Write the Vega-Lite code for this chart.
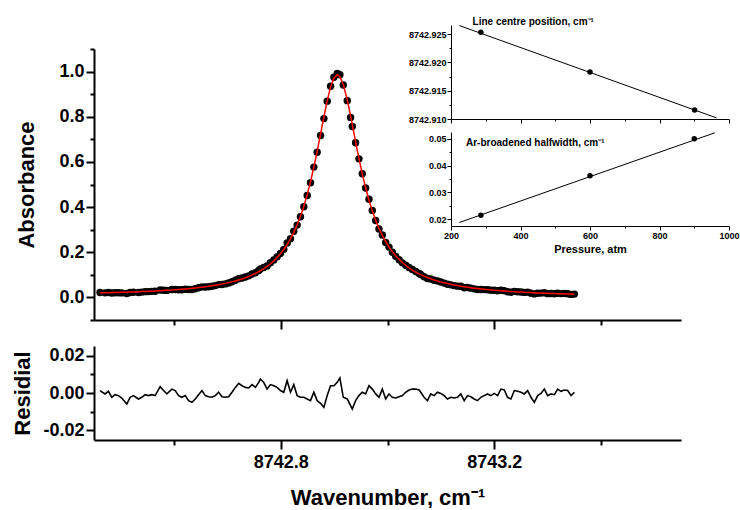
{
  "$schema": "https://vega.github.io/schema/vega-lite/v6.json",
  "background": "white",
  "padding": {"left": 11, "top": 17, "right": 0, "bottom": 0},
  "config": {
    "view": {"stroke": null},
    "font": "Liberation Sans",
    "axis": {"grid": false, "domainColor": "black", "tickColor": "black", "labelColor": "black", "titleColor": "black", "labelFont": "Liberation Sans", "titleFont": "Liberation Sans", "labelFontWeight": "bold", "titleFontWeight": "bold", "labelOverlap": false, "labelFlush": false}
  },
  "datasets": {
    "spec": [
      {"x":8742.4613,"a":0.0215,"fit":0.0202,"r":0.0013},
      {"x":8742.4707,"a":0.0202,"fit":0.0207,"r":-0.0005},
      {"x":8742.4770,"a":0.0220,"fit":0.0211,"r":0.0009},
      {"x":8742.4833,"a":0.0192,"fit":0.0215,"r":-0.0023},
      {"x":8742.4895,"a":0.0210,"fit":0.0219,"r":-0.0009},
      {"x":8742.4958,"a":0.0209,"fit":0.0223,"r":-0.0014},
      {"x":8742.5020,"a":0.0200,"fit":0.0227,"r":-0.0027},
      {"x":8742.5114,"a":0.0175,"fit":0.0234,"r":-0.0059},
      {"x":8742.5177,"a":0.0216,"fit":0.0239,"r":-0.0023},
      {"x":8742.5239,"a":0.0230,"fit":0.0244,"r":-0.0014},
      {"x":8742.5333,"a":0.0221,"fit":0.0253,"r":-0.0032},
      {"x":8742.5396,"a":0.0236,"fit":0.0259,"r":-0.0023},
      {"x":8742.5459,"a":0.0256,"fit":0.0265,"r":-0.0009},
      {"x":8742.5521,"a":0.0257,"fit":0.0271,"r":-0.0014},
      {"x":8742.5584,"a":0.0269,"fit":0.0278,"r":-0.0009},
      {"x":8742.5646,"a":0.0272,"fit":0.0286,"r":-0.0014},
      {"x":8742.5740,"a":0.0332,"fit":0.0298,"r":0.0034},
      {"x":8742.5803,"a":0.0319,"fit":0.0306,"r":0.0013},
      {"x":8742.5865,"a":0.0310,"fit":0.0315,"r":-0.0005},
      {"x":8742.5959,"a":0.0351,"fit":0.0330,"r":0.0021},
      {"x":8742.6022,"a":0.0353,"fit":0.0340,"r":0.0013},
      {"x":8742.6085,"a":0.0337,"fit":0.0351,"r":-0.0014},
      {"x":8742.6147,"a":0.0340,"fit":0.0363,"r":-0.0023},
      {"x":8742.6210,"a":0.0362,"fit":0.0376,"r":-0.0014},
      {"x":8742.6272,"a":0.0348,"fit":0.0389,"r":-0.0041},
      {"x":8742.6335,"a":0.0353,"fit":0.0403,"r":-0.0050},
      {"x":8742.6398,"a":0.0387,"fit":0.0419,"r":-0.0032},
      {"x":8742.6460,"a":0.0426,"fit":0.0435,"r":-0.0009},
      {"x":8742.6523,"a":0.0466,"fit":0.0453,"r":0.0013},
      {"x":8742.6585,"a":0.0458,"fit":0.0472,"r":-0.0014},
      {"x":8742.6648,"a":0.0472,"fit":0.0492,"r":-0.0020},
      {"x":8742.6710,"a":0.0491,"fit":0.0514,"r":-0.0023},
      {"x":8742.6773,"a":0.0524,"fit":0.0538,"r":-0.0014},
      {"x":8742.6836,"a":0.0568,"fit":0.0564,"r":0.0004},
      {"x":8742.6898,"a":0.0572,"fit":0.0592,"r":-0.0020},
      {"x":8742.6961,"a":0.0599,"fit":0.0622,"r":-0.0023},
      {"x":8742.7023,"a":0.0635,"fit":0.0655,"r":-0.0020},
      {"x":8742.7086,"a":0.0695,"fit":0.0691,"r":0.0004},
      {"x":8742.7149,"a":0.0760,"fit":0.0730,"r":0.0030},
      {"x":8742.7211,"a":0.0824,"fit":0.0772,"r":0.0052},
      {"x":8742.7274,"a":0.0858,"fit":0.0819,"r":0.0039},
      {"x":8742.7337,"a":0.0901,"fit":0.0871,"r":0.0030},
      {"x":8742.7399,"a":0.0955,"fit":0.0928,"r":0.0027},
      {"x":8742.7462,"a":0.1036,"fit":0.0991,"r":0.0045},
      {"x":8742.7524,"a":0.1090,"fit":0.1060,"r":0.0030},
      {"x":8742.7587,"a":0.1195,"fit":0.1138,"r":0.0057},
      {"x":8742.7618,"a":0.1255,"fit":0.1180,"r":0.0075},
      {"x":8742.7681,"a":0.1329,"fit":0.1272,"r":0.0057},
      {"x":8742.7743,"a":0.1394,"fit":0.1373,"r":0.0021},
      {"x":8742.7806,"a":0.1534,"fit":0.1489,"r":0.0045},
      {"x":8742.7869,"a":0.1659,"fit":0.1620,"r":0.0039},
      {"x":8742.7931,"a":0.1796,"fit":0.1766,"r":0.0030},
      {"x":8742.7994,"a":0.1948,"fit":0.1935,"r":0.0013},
      {"x":8742.8056,"a":0.2128,"fit":0.2124,"r":0.0004},
      {"x":8742.8119,"a":0.2410,"fit":0.2344,"r":0.0066},
      {"x":8742.8182,"a":0.2600,"fit":0.2596,"r":0.0004},
      {"x":8742.8244,"a":0.2927,"fit":0.2882,"r":0.0045},
      {"x":8742.8307,"a":0.3202,"fit":0.3216,"r":-0.0014},
      {"x":8742.8369,"a":0.3572,"fit":0.3595,"r":-0.0023},
      {"x":8742.8432,"a":0.4015,"fit":0.4038,"r":-0.0023},
      {"x":8742.8495,"a":0.4515,"fit":0.4547,"r":-0.0032},
      {"x":8742.8557,"a":0.5076,"fit":0.5117,"r":-0.0041},
      {"x":8742.8620,"a":0.5770,"fit":0.5766,"r":0.0004},
      {"x":8742.8682,"a":0.6426,"fit":0.6467,"r":-0.0041},
      {"x":8742.8745,"a":0.7171,"fit":0.7226,"r":-0.0055},
      {"x":8742.8808,"a":0.7917,"fit":0.7994,"r":-0.0077},
      {"x":8742.8870,"a":0.8691,"fit":0.8705,"r":-0.0014},
      {"x":8742.8933,"a":0.9348,"fit":0.9309,"r":0.0039},
      {"x":8742.8995,"a":0.9748,"fit":0.9709,"r":0.0039},
      {"x":8742.9058,"a":0.9917,"fit":0.9860,"r":0.0057},
      {"x":8742.9108,"a":0.9858,"fit":0.9777,"r":0.0081},
      {"x":8742.9171,"a":0.9408,"fit":0.9431,"r":-0.0023},
      {"x":8742.9246,"a":0.8713,"fit":0.8745,"r":-0.0032},
      {"x":8742.9308,"a":0.7971,"fit":0.8039,"r":-0.0068},
      {"x":8742.9340,"a":0.7565,"fit":0.7651,"r":-0.0086},
      {"x":8742.9402,"a":0.6852,"fit":0.6893,"r":-0.0041},
      {"x":8742.9465,"a":0.6135,"fit":0.6149,"r":-0.0014},
      {"x":8742.9527,"a":0.5477,"fit":0.5473,"r":0.0004},
      {"x":8742.9590,"a":0.4848,"fit":0.4853,"r":-0.0005},
      {"x":8742.9653,"a":0.4344,"fit":0.4305,"r":0.0039},
      {"x":8742.9715,"a":0.3853,"fit":0.3832,"r":0.0021},
      {"x":8742.9778,"a":0.3409,"fit":0.3414,"r":-0.0005},
      {"x":8742.9840,"a":0.3033,"fit":0.3056,"r":-0.0023},
      {"x":8742.9903,"a":0.2762,"fit":0.2741,"r":0.0021},
      {"x":8742.9966,"a":0.2435,"fit":0.2467,"r":-0.0032},
      {"x":8743.0028,"a":0.2228,"fit":0.2233,"r":-0.0005},
      {"x":8743.0091,"a":0.2001,"fit":0.2024,"r":-0.0023},
      {"x":8743.0153,"a":0.1818,"fit":0.1845,"r":-0.0027},
      {"x":8743.0216,"a":0.1665,"fit":0.1685,"r":-0.0020},
      {"x":8743.0279,"a":0.1530,"fit":0.1544,"r":-0.0014},
      {"x":8743.0341,"a":0.1425,"fit":0.1421,"r":0.0004},
      {"x":8743.0404,"a":0.1326,"fit":0.1310,"r":0.0016},
      {"x":8743.0466,"a":0.1233,"fit":0.1212,"r":0.0021},
      {"x":8743.0529,"a":0.1145,"fit":0.1124,"r":0.0021},
      {"x":8743.0592,"a":0.1060,"fit":0.1044,"r":0.0016},
      {"x":8743.0623,"a":0.1012,"fit":0.1008,"r":0.0004},
      {"x":8743.0685,"a":0.0918,"fit":0.0941,"r":-0.0023},
      {"x":8743.0748,"a":0.0839,"fit":0.0880,"r":-0.0041},
      {"x":8743.0811,"a":0.0819,"fit":0.0824,"r":-0.0005},
      {"x":8743.0873,"a":0.0760,"fit":0.0774,"r":-0.0014},
      {"x":8743.0936,"a":0.0732,"fit":0.0728,"r":0.0004},
      {"x":8743.0998,"a":0.0684,"fit":0.0686,"r":-0.0002},
      {"x":8743.1061,"a":0.0634,"fit":0.0648,"r":-0.0014},
      {"x":8743.1124,"a":0.0580,"fit":0.0612,"r":-0.0032},
      {"x":8743.1186,"a":0.0557,"fit":0.0580,"r":-0.0023},
      {"x":8743.1249,"a":0.0523,"fit":0.0550,"r":-0.0027},
      {"x":8743.1311,"a":0.0499,"fit":0.0522,"r":-0.0023},
      {"x":8743.1374,"a":0.0491,"fit":0.0496,"r":-0.0005},
      {"x":8743.1437,"a":0.0431,"fit":0.0472,"r":-0.0041},
      {"x":8743.1499,"a":0.0436,"fit":0.0450,"r":-0.0014},
      {"x":8743.1562,"a":0.0410,"fit":0.0430,"r":-0.0020},
      {"x":8743.1624,"a":0.0379,"fit":0.0411,"r":-0.0032},
      {"x":8743.1687,"a":0.0352,"fit":0.0393,"r":-0.0041},
      {"x":8743.1750,"a":0.0352,"fit":0.0375,"r":-0.0023},
      {"x":8743.1812,"a":0.0346,"fit":0.0360,"r":-0.0014},
      {"x":8743.1875,"a":0.0340,"fit":0.0345,"r":-0.0005},
      {"x":8743.1937,"a":0.0317,"fit":0.0331,"r":-0.0014},
      {"x":8743.2000,"a":0.0316,"fit":0.0318,"r":-0.0002},
      {"x":8743.2063,"a":0.0292,"fit":0.0306,"r":-0.0014},
      {"x":8743.2125,"a":0.0315,"fit":0.0294,"r":0.0021},
      {"x":8743.2188,"a":0.0299,"fit":0.0283,"r":0.0016},
      {"x":8743.2250,"a":0.0250,"fit":0.0273,"r":-0.0023},
      {"x":8743.2313,"a":0.0231,"fit":0.0263,"r":-0.0032},
      {"x":8743.2376,"a":0.0266,"fit":0.0253,"r":0.0013},
      {"x":8743.2438,"a":0.0253,"fit":0.0244,"r":0.0009},
      {"x":8743.2501,"a":0.0240,"fit":0.0236,"r":0.0004},
      {"x":8743.2563,"a":0.0223,"fit":0.0228,"r":-0.0005},
      {"x":8743.2626,"a":0.0233,"fit":0.0220,"r":0.0013},
      {"x":8743.2689,"a":0.0190,"fit":0.0213,"r":-0.0023},
      {"x":8743.2751,"a":0.0156,"fit":0.0206,"r":-0.0050},
      {"x":8743.2814,"a":0.0185,"fit":0.0199,"r":-0.0014},
      {"x":8743.2876,"a":0.0191,"fit":0.0193,"r":-0.0002},
      {"x":8743.2939,"a":0.0208,"fit":0.0187,"r":0.0021},
      {"x":8743.3002,"a":0.0167,"fit":0.0181,"r":-0.0014},
      {"x":8743.3064,"a":0.0171,"fit":0.0176,"r":-0.0005},
      {"x":8743.3127,"a":0.0161,"fit":0.0170,"r":-0.0009},
      {"x":8743.3189,"a":0.0186,"fit":0.0165,"r":0.0021},
      {"x":8743.3252,"a":0.0169,"fit":0.0160,"r":0.0009},
      {"x":8743.3315,"a":0.0172,"fit":0.0156,"r":0.0016},
      {"x":8743.3377,"a":0.0164,"fit":0.0151,"r":0.0013},
      {"x":8743.3440,"a":0.0133,"fit":0.0147,"r":-0.0014},
      {"x":8743.3502,"a":0.0147,"fit":0.0143,"r":0.0004}
    ],
    "pos": [{"p":286,"v":8742.9253},{"p":600,"v":8742.9183},{"p":901,"v":8742.9116}],
    "posfit": [{"p":224,"v":8742.9265},{"p":964,"v":8742.9102}],
    "hw": [{"p":286,"v":0.0215},{"p":600,"v":0.0362},{"p":900,"v":0.0500}],
    "hwfit": [{"p":224,"v":0.0188},{"p":959,"v":0.0522}]
  },
  "align": "none",
  "spacing": -273,
  "hconcat": [
    {
      "spacing": 16,
      "vconcat": [
        {
          "width": 587,
          "height": 7,
          "data": {"values": []},
          "mark": "point"
        },
        {
          "width": 587,
          "height": 271,
          "data": {"name": "spec"},
          "layer": [
            {
              "mark": {"type": "circle", "color": "black", "size": 55, "opacity": 1},
              "encoding": {
                "x": {"field": "x", "type": "quantitative", "scale": {"domain": [8742.45, 8743.55], "nice": false, "zero": false},
                  "axis": {"title": null, "values": [8742.6, 8742.8, 8743.0, 8743.2, 8743.4], "labels": false, "domainWidth": 2, "tickWidth": 2,
                    "tickSize": {"condition": {"test": "abs(datum.value-8742.8)<0.01 || abs(datum.value-8743.2)<0.01", "value": 9}, "value": 5}}},
                "y": {"field": "a", "type": "quantitative", "scale": {"domain": [-0.1, 1.1], "nice": false, "zero": false},
                  "axis": {"title": "Absorbance", "values": [-0.1, 0, 0.1, 0.2, 0.3, 0.4, 0.5, 0.6, 0.7, 0.8, 0.9, 1.0, 1.1],
                    "labelExpr": "round(datum.value*10)%2==0 ? format(datum.value,'.1f') : ''",
                    "tickSize": {"condition": {"test": "round(datum.value*10)%2==0", "value": 8}, "value": 4},
                    "labelFontSize": {"condition": {"test": "round(datum.value*10)%2==0", "value": 18}, "value": 1},
                    "titleFontSize": 22, "titlePadding": 20, "labelPadding": 2, "domainWidth": 2, "tickWidth": 2}}
              }
            },
            {
              "mark": {"type": "line", "color": "#ff0000", "strokeWidth": 1.5},
              "encoding": {
                "x": {"field": "x", "type": "quantitative", "scale": {"domain": [8742.45, 8743.55], "nice": false, "zero": false},
                  "axis": {"title": null, "values": [8742.6, 8742.8, 8743.0, 8743.2, 8743.4], "labels": false, "domainWidth": 2, "tickWidth": 2,
                    "tickSize": {"condition": {"test": "abs(datum.value-8742.8)<0.01 || abs(datum.value-8743.2)<0.01", "value": 9}, "value": 5}}},
                "y": {"field": "fit", "type": "quantitative", "scale": {"domain": [-0.1, 1.1], "nice": false, "zero": false},
                  "axis": {"title": "Absorbance", "values": [-0.1, 0, 0.1, 0.2, 0.3, 0.4, 0.5, 0.6, 0.7, 0.8, 0.9, 1.0, 1.1],
                    "labelExpr": "round(datum.value*10)%2==0 ? format(datum.value,'.1f') : ''",
                    "tickSize": {"condition": {"test": "round(datum.value*10)%2==0", "value": 8}, "value": 4},
                    "labelFontSize": {"condition": {"test": "round(datum.value*10)%2==0", "value": 18}, "value": 1},
                    "titleFontSize": 22, "titlePadding": 20, "labelPadding": 2, "domainWidth": 2, "tickWidth": 2}}
              }
            }
          ]
        },
        {
          "width": 587,
          "height": 94,
          "data": {"name": "spec"},
          "mark": {"type": "line", "color": "black", "strokeWidth": 1.6},
          "encoding": {
            "x": {"field": "x", "type": "quantitative", "scale": {"domain": [8742.45, 8743.55], "nice": false, "zero": false},
              "axis": {"title": "Wavenumber, cm⁻¹", "values": [8742.6, 8742.8, 8743.0, 8743.2, 8743.4],
                "labelExpr": "abs(datum.value-8742.8)<0.01 || abs(datum.value-8743.2)<0.01 ? format(datum.value,'.1f') : ''",
                "tickSize": {"condition": {"test": "abs(datum.value-8742.8)<0.01 || abs(datum.value-8743.2)<0.01", "value": 9}, "value": 5},
                "labelFontSize": 18, "titleFontSize": 22, "labelPadding": 4, "titlePadding": 16, "domainWidth": 2, "tickWidth": 2}},
            "y": {"field": "r", "type": "quantitative", "scale": {"domain": [-0.0252, 0.0252], "nice": false, "zero": false},
              "axis": {"title": "Residial", "values": [-0.02, -0.01, 0, 0.01, 0.02],
                "labelExpr": "round(datum.value*100)%2==0 ? (datum.value<0 ? '-' + format(-datum.value,'.2f') : format(datum.value,'.2f')) : ''",
                "tickSize": {"condition": {"test": "round(datum.value*100)%2==0", "value": 8}, "value": 4},
                "labelFontSize": 18, "titleFontSize": 22, "titlePadding": 8, "labelPadding": 2, "domainWidth": 2, "tickWidth": 2}}
          }
        }
      ]
    },
    {
      "spacing": 6,
      "vconcat": [
        {
          "width": 278,
          "height": 94,
          "layer": [
            {
              "data": {"name": "posfit"},
              "mark": {"type": "line", "color": "black", "strokeWidth": 1},
              "encoding": {
                "x": {"field": "p", "type": "quantitative", "scale": {"domain": [200, 1000], "nice": false, "zero": false},
                  "axis": {"title": null, "labels": false, "values": [200, 300, 400, 500, 600, 700, 800, 900, 1000],
                    "tickSize": {"condition": {"test": "datum.value%200==0", "value": 4}, "value": 2}, "domainWidth": 1, "tickWidth": 1}},
                "y": {"field": "v", "type": "quantitative", "scale": {"domain": [8742.91, 8742.9266], "nice": false, "zero": false},
                  "axis": {"title": null, "values": [8742.91, 8742.9125, 8742.915, 8742.9175, 8742.92, 8742.9225, 8742.925],
                    "labelExpr": "round(datum.value*400)%2==0 ? format(datum.value,'.3f') : ''",
                    "tickSize": {"condition": {"test": "round(datum.value*400)%2==0", "value": 4}, "value": 2},
                    "labelFontSize": 9, "labelPadding": 1, "labelOverlap": false, "domainWidth": 1, "tickWidth": 1}}
              }
            },
            {
              "data": {"name": "pos"},
              "mark": {"type": "circle", "color": "black", "size": 30, "opacity": 1},
              "encoding": {
                "x": {"field": "p", "type": "quantitative", "scale": {"domain": [200, 1000], "nice": false, "zero": false},
                  "axis": {"title": null, "labels": false, "values": [200, 300, 400, 500, 600, 700, 800, 900, 1000],
                    "tickSize": {"condition": {"test": "datum.value%200==0", "value": 4}, "value": 2}, "domainWidth": 1, "tickWidth": 1}},
                "y": {"field": "v", "type": "quantitative", "scale": {"domain": [8742.91, 8742.9266], "nice": false, "zero": false},
                  "axis": {"title": null, "values": [8742.91, 8742.9125, 8742.915, 8742.9175, 8742.92, 8742.9225, 8742.925],
                    "labelExpr": "round(datum.value*400)%2==0 ? format(datum.value,'.3f') : ''",
                    "tickSize": {"condition": {"test": "round(datum.value*400)%2==0", "value": 4}, "value": 2},
                    "labelFontSize": 9, "labelPadding": 1, "labelOverlap": false, "domainWidth": 1, "tickWidth": 1}}
              }
            },
            {
              "data": {"values": [{}]},
              "mark": {"type": "text", "text": "Line centre position, cm⁻¹", "align": "left", "baseline": "middle", "fontSize": 10, "fontWeight": "bold", "font": "Liberation Sans", "color": "black"},
              "encoding": {
                "x": {"datum": 262, "type": "quantitative", "scale": {"domain": [200, 1000], "nice": false, "zero": false},
                  "axis": {"title": null, "labels": false, "values": [200, 300, 400, 500, 600, 700, 800, 900, 1000],
                    "tickSize": {"condition": {"test": "datum.value%200==0", "value": 4}, "value": 2}, "domainWidth": 1, "tickWidth": 1}},
                "y": {"datum": 8742.92708, "type": "quantitative", "scale": {"domain": [8742.91, 8742.9266], "nice": false, "zero": false},
                  "axis": {"title": null, "values": [8742.91, 8742.9125, 8742.915, 8742.9175, 8742.92, 8742.9225, 8742.925],
                    "labelExpr": "round(datum.value*400)%2==0 ? format(datum.value,'.3f') : ''",
                    "tickSize": {"condition": {"test": "round(datum.value*400)%2==0", "value": 4}, "value": 2},
                    "labelFontSize": 9, "labelPadding": 1, "labelOverlap": false, "domainWidth": 1, "tickWidth": 1}}
              }
            }
          ]
        },
        {
          "width": 278,
          "height": 94,
          "layer": [
            {
              "data": {"name": "hwfit"},
              "mark": {"type": "line", "color": "black", "strokeWidth": 1},
              "encoding": {
                "x": {"field": "p", "type": "quantitative", "scale": {"domain": [200, 1000], "nice": false, "zero": false},
                  "axis": {"title": "Pressure, atm", "values": [200, 300, 400, 500, 600, 700, 800, 900, 1000],
                    "labelExpr": "datum.value%200==0 ? format(datum.value,'d') : ''",
                    "tickSize": {"condition": {"test": "datum.value%200==0", "value": 4}, "value": 2},
                    "labelFontSize": 9, "labelPadding": 1, "labelOverlap": false, "titleFontSize": 11, "titlePadding": 3, "domainWidth": 1, "tickWidth": 1}},
                "y": {"field": "v", "type": "quantitative", "scale": {"domain": [0.0175, 0.0525], "nice": false, "zero": false},
                  "axis": {"title": null, "values": [0.02, 0.025, 0.03, 0.035, 0.04, 0.045, 0.05],
                    "labelExpr": "round(datum.value*200)%2==0 ? format(datum.value,'.2f') : ''",
                    "tickSize": {"condition": {"test": "round(datum.value*200)%2==0", "value": 4}, "value": 2},
                    "labelFontSize": 9, "labelPadding": 1, "labelOverlap": false, "domainWidth": 1, "tickWidth": 1}}
              }
            },
            {
              "data": {"name": "hw"},
              "mark": {"type": "circle", "color": "black", "size": 30, "opacity": 1},
              "encoding": {
                "x": {"field": "p", "type": "quantitative", "scale": {"domain": [200, 1000], "nice": false, "zero": false},
                  "axis": {"title": "Pressure, atm", "values": [200, 300, 400, 500, 600, 700, 800, 900, 1000],
                    "labelExpr": "datum.value%200==0 ? format(datum.value,'d') : ''",
                    "tickSize": {"condition": {"test": "datum.value%200==0", "value": 4}, "value": 2},
                    "labelFontSize": 9, "labelPadding": 1, "labelOverlap": false, "titleFontSize": 11, "titlePadding": 3, "domainWidth": 1, "tickWidth": 1}},
                "y": {"field": "v", "type": "quantitative", "scale": {"domain": [0.0175, 0.0525], "nice": false, "zero": false},
                  "axis": {"title": null, "values": [0.02, 0.025, 0.03, 0.035, 0.04, 0.045, 0.05],
                    "labelExpr": "round(datum.value*200)%2==0 ? format(datum.value,'.2f') : ''",
                    "tickSize": {"condition": {"test": "round(datum.value*200)%2==0", "value": 4}, "value": 2},
                    "labelFontSize": 9, "labelPadding": 1, "labelOverlap": false, "domainWidth": 1, "tickWidth": 1}}
              }
            },
            {
              "data": {"values": [{}]},
              "mark": {"type": "text", "text": "Ar-broadened halfwidth, cm⁻¹", "align": "left", "baseline": "middle", "fontSize": 10, "fontWeight": "bold", "font": "Liberation Sans", "color": "black"},
              "encoding": {
                "x": {"datum": 243, "type": "quantitative", "scale": {"domain": [200, 1000], "nice": false, "zero": false},
                  "axis": {"title": "Pressure, atm", "values": [200, 300, 400, 500, 600, 700, 800, 900, 1000],
                    "labelExpr": "datum.value%200==0 ? format(datum.value,'d') : ''",
                    "tickSize": {"condition": {"test": "datum.value%200==0", "value": 4}, "value": 2},
                    "labelFontSize": 9, "labelPadding": 1, "labelOverlap": false, "titleFontSize": 11, "titlePadding": 3, "domainWidth": 1, "tickWidth": 1}},
                "y": {"datum": 0.04825, "type": "quantitative", "scale": {"domain": [0.0175, 0.0525], "nice": false, "zero": false},
                  "axis": {"title": null, "values": [0.02, 0.025, 0.03, 0.035, 0.04, 0.045, 0.05],
                    "labelExpr": "round(datum.value*200)%2==0 ? format(datum.value,'.2f') : ''",
                    "tickSize": {"condition": {"test": "round(datum.value*200)%2==0", "value": 4}, "value": 2},
                    "labelFontSize": 9, "labelPadding": 1, "labelOverlap": false, "domainWidth": 1, "tickWidth": 1}}
              }
            }
          ]
        }
      ]
    }
  ]
}
